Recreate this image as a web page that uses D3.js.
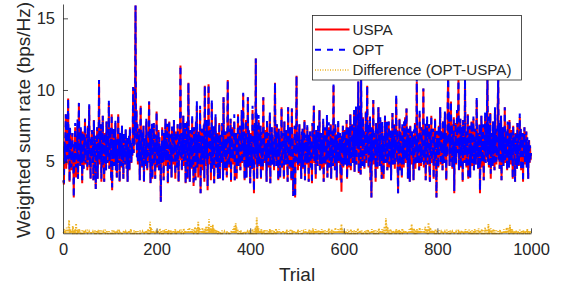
<!DOCTYPE html>
<html>
<head>
<meta charset="utf-8">
<script src="https://cdn.jsdelivr.net/npm/d3@7"></script>
<style>
  html, body { margin: 0; padding: 0; background: #fff; }
  svg { display: block; font-family: "Liberation Sans", Arial, Helvetica, sans-serif; }
</style>
</head>
<body>
<svg id="chart" width="561" height="288"></svg>
<script>
// ---- Data ----
const xTicks = [0, 200, 400, 600, 800, 1000];
const yTicks = [0, 5, 10, 15];
const seriesNames = ["USPA", "OPT", "Difference (OPT-USPA)"];

// USPA weighted sum rate, trials 1..1000 (50 per row)
const uspa = [
3.7,3.4,6.1,5.0,6.6,8.3,4.5,7.8,5.2,6.9,9.4,4.8,6.3,3.6,7.2,5.5,6.0,4.4,5.8,7.0,4.6,5.3,2.5,6.2,4.9,7.4,5.1,3.9,6.5,5.6,7.7,3.8,6.0,9.1,5.0,6.8,4.7,7.3,5.4,6.2,3.5,7.1,5.7,4.5,6.7,5.2,8.0,4.8,6.4,5.5,
6.9,4.4,7.5,5.1,6.0,8.9,4.6,5.8,3.8,6.6,5.3,7.2,4.9,6.1,3.7,7.9,5.6,6.4,4.7,3.1,6.8,5.0,7.4,3.8,6.2,5.4,10.7,4.8,6.7,5.2,7.6,3.6,6.0,5.5,8.2,4.6,6.3,3.6,7.0,5.1,6.5,4.4,7.8,5.7,4.9,6.9,5.3,9.1,4.5,6.1,
5.0,7.3,3.7,8.3,3.0,6.4,5.6,7.1,4.7,6.0,5.2,7.7,4.4,6.6,3.9,5.8,4.9,8.3,5.4,6.2,3.6,7.0,5.5,6.4,4.6,7.5,5.1,6.1,3.8,6.8,5.3,6.0,4.8,7.2,5.6,4.5,6.5,3.6,5.9,5.0,6.7,4.4,7.4,5.2,6.0,4.9,6.3,5.4,7.0,10.2,
5.6,8.1,6.2,9.8,15.9,6.8,8.6,5.3,7.6,4.8,6.9,5.5,7.3,3.7,6.4,8.9,5.0,7.1,4.6,6.0,5.4,7.5,3.6,6.6,5.2,6.1,4.7,7.8,5.8,4.4,6.3,5.1,7.0,9.2,4.9,6.5,3.5,6.8,5.6,7.4,3.8,6.0,5.3,7.7,4.8,6.2,3.8,6.9,5.5,8.5,
4.6,6.4,5.2,7.2,4.4,6.7,5.0,5.8,2.2,6.1,4.9,7.4,5.5,6.3,3.7,7.0,5.3,6.0,8.0,4.7,6.6,5.1,7.5,3.5,6.2,5.7,7.8,4.5,6.9,5.4,6.1,3.9,7.3,5.0,6.5,4.8,7.9,5.6,6.3,3.8,7.1,5.2,6.0,4.6,7.6,5.9,3.6,6.8,5.3,7.2,
11.7,5.1,7.0,4.4,6.6,5.8,8.2,4.7,6.3,5.2,7.5,3.5,6.9,5.5,7.8,3.8,6.1,10.5,4.9,6.4,3.6,7.2,5.3,6.7,4.5,8.0,5.0,6.2,3.3,7.4,5.6,6.0,3.7,7.7,5.4,8.9,4.6,6.5,3.9,7.1,5.2,6.3,8.6,2.8,6.8,5.0,7.3,4.4,6.1,5.7,
7.6,3.6,10.3,5.3,6.6,4.7,7.9,5.5,3.0,6.2,10.4,4.8,6.9,5.1,7.4,3.7,6.0,9.1,4.5,6.7,5.4,7.2,3.5,6.3,5.8,8.1,4.6,6.5,5.0,7.0,3.8,6.1,5.6,7.7,3.8,6.8,5.2,6.0,4.9,7.5,5.5,3.7,9.5,5.7,6.4,4.4,7.1,5.1,6.6,3.9,
6.2,10.7,5.0,7.3,4.6,6.5,5.3,8.0,3.6,6.9,5.6,7.4,4.8,6.1,5.2,7.8,3.7,6.6,5.5,7.0,3.8,6.3,5.9,8.3,4.7,6.8,5.1,7.5,4.4,6.0,5.7,8.6,4.9,6.4,9.7,5.3,7.1,3.7,6.7,5.6,7.9,3.9,6.2,5.0,9.5,4.6,7.2,5.4,6.5,3.5,
7.0,5.2,6.3,4.5,8.6,5.8,6.9,2.8,6.1,7.7,4.8,12.2,5.5,7.3,3.8,6.6,5.0,7.9,4.7,6.2,5.4,7.5,3.8,6.8,5.1,6.0,4.4,9.5,5.7,6.4,4.9,7.2,5.3,6.1,3.6,7.8,5.6,6.5,4.6,7.0,5.2,8.2,3.5,6.3,5.5,7.4,4.8,6.7,5.0,6.0,
4.4,7.1,10.5,5.3,6.6,4.7,7.6,5.8,6.2,3.7,7.3,5.1,6.8,3.9,6.4,5.6,8.8,4.6,7.0,5.4,6.1,3.8,7.8,5.0,6.5,4.8,7.2,5.7,6.0,3.6,8.8,5.2,6.9,4.5,7.4,5.5,6.3,3.7,8.7,5.0,6.7,2.6,6.2,5.3,7.5,2.5,6.6,4.9,11.0,5.6,
7.0,4.4,6.1,5.2,7.6,4.7,6.4,5.5,3.8,6.9,5.0,7.3,4.5,6.2,5.7,7.9,3.7,6.6,5.3,6.0,4.8,7.4,5.1,6.5,3.6,6.8,5.4,7.1,4.6,6.3,5.8,3.5,7.7,5.2,6.1,8.9,4.9,6.7,5.5,3.8,7.2,5.0,6.4,4.7,7.5,5.6,6.0,8.6,4.4,6.6,
5.1,7.0,4.5,6.3,5.4,7.8,3.6,6.5,5.7,7.2,4.8,6.1,5.2,8.1,3.9,6.7,5.5,7.4,4.6,6.0,5.3,7.6,3.8,6.4,5.0,7.1,4.7,10.3,5.6,6.2,4.4,7.3,5.1,6.6,3.7,6.9,5.4,7.7,4.9,6.0,5.2,7.0,3.7,6.3,2.9,6.8,5.5,7.5,4.6,6.1,
5.3,7.2,4.8,6.5,5.0,7.9,3.8,6.2,5.6,7.4,4.6,6.7,5.2,8.3,4.4,6.0,5.8,7.6,4.9,6.9,5.7,8.4,4.3,7.0,6.2,8.7,4.8,7.3,5.9,6.6,10.6,4.2,7.8,6.0,8.9,4.1,10.7,6.3,7.5,4.7,8.1,5.8,7.1,4.5,6.8,5.5,8.5,4.9,7.2,10.3,
5.6,7.4,4.6,6.9,5.3,8.0,3.7,6.5,2.5,7.1,5.0,6.4,9.3,4.8,7.0,5.7,6.2,3.6,7.7,5.4,6.6,4.5,7.2,8.8,5.1,6.3,4.7,7.9,5.5,6.0,3.8,7.5,5.2,6.8,3.8,6.1,5.6,8.2,4.9,6.7,5.3,7.3,4.4,6.4,5.0,7.8,4.6,6.2,5.7,7.0,
3.7,6.6,5.4,8.4,4.8,6.9,5.1,7.6,4.5,6.3,5.8,9.4,5.0,7.2,4.7,2.8,6.5,5.3,8.0,4.4,7.0,5.6,6.2,3.9,7.4,5.2,6.7,4.6,7.8,5.5,8.1,4.9,6.4,8.7,5.1,6.8,3.8,7.3,5.7,6.0,3.6,7.5,5.4,6.6,4.8,7.1,5.0,6.3,3.7,6.9,
5.3,7.7,4.5,6.4,5.9,10.6,4.9,7.0,5.2,6.6,4.4,8.3,5.6,6.1,4.7,7.4,5.0,6.8,5.5,10.1,4.6,6.5,5.3,7.2,3.7,6.9,5.7,7.9,4.8,6.3,5.1,7.6,4.4,3.6,6.7,5.4,8.2,4.9,6.0,5.6,7.3,3.8,6.6,5.0,8.0,4.7,6.2,2.5,7.0,5.5,
6.4,4.6,7.5,5.3,6.8,8.8,4.8,7.1,5.6,6.2,4.4,7.8,5.1,6.5,4.9,8.4,5.7,7.0,3.7,6.6,5.4,9.0,11.2,6.1,8.5,4.7,7.3,5.8,9.2,5.0,7.6,4.5,6.9,5.5,8.1,2.8,6.4,5.2,7.7,4.8,6.3,8.6,5.6,7.2,10.8,4.4,6.7,5.1,8.0,4.6,
7.4,5.3,6.8,3.6,7.9,5.7,6.2,4.9,10.8,5.4,7.1,4.6,6.5,5.0,8.3,3.8,6.9,5.6,7.5,3.9,6.4,5.2,7.8,4.7,6.1,5.5,8.0,4.4,6.7,5.1,7.3,4.8,6.3,9.3,5.3,7.0,4.5,6.6,5.8,7.6,2.8,6.2,5.0,8.2,4.6,6.9,5.4,7.4,3.7,6.5,
5.7,8.1,4.9,7.2,5.3,8.8,10.8,5.0,7.5,4.6,6.8,5.5,8.4,3.8,7.0,5.9,6.4,4.7,7.8,5.2,6.6,4.4,8.6,5.6,7.3,4.8,6.1,5.4,9.0,10.8,5.1,7.7,4.5,6.9,5.8,8.2,3.7,6.5,5.0,7.4,4.7,6.3,5.5,8.8,4.9,7.1,5.3,6.7,4.4,7.6,
5.2,6.4,4.6,7.9,5.6,6.8,4.8,7.2,5.1,6.2,3.8,7.5,5.7,6.6,4.9,3.6,7.0,5.4,6.3,4.5,7.7,5.0,6.9,4.7,6.1,8.1,5.3,7.3,4.4,6.5,5.8,7.0,3.6,6.7,5.5,7.4,4.8,6.0,5.2,7.1,4.6,6.4,5.6,3.8,6.2,6.5,4.9,6.0,5.1,5.6
];

// Nonzero OPT-USPA gaps as [trial, gap]; every other trial has gap 0
const diffPoints = [
[2,0.1],[3,0.3],[5,0.15],[7,0.25],[8,0.4],[10,0.2],[12,0.35],[13,0.93],[15,0.3],[17,0.15],[18,0.2],[21,0.5],[24,0.15],[26,0.3],[28,0.7],[31,0.25],[33,0.15],[35,0.3],[38,0.1],[41,0.2],[45,0.2],[48,0.1],[52,0.25],[56,0.1],[60,0.15],[64,0.1],[68,0.2],[72,0.15],[75,0.1],[78,0.2],[82,0.2],[86,0.1],[90,0.25],[94,0.15],[98,0.15],
[102,0.1],[105,0.2],[108,0.25],[112,0.15],[116,0.1],[120,0.25],[125,0.1],[130,0.2],[134,0.1],[137,0.15],[141,0.2],[145,0.3],[149,0.1],[152,0.2],[156,0.15],[160,0.15],[165,0.2],[170,0.1],[174,0.15],[178,0.2],[182,0.3],[186,0.8],[188,0.4],[190,0.3],[193,0.2],[196,0.15],[199,0.1],
[203,0.2],[207,0.35],[210,0.15],[214,0.2],[217,0.1],[220,0.3],[223,0.15],[226,0.25],[230,0.2],[233,0.15],[236,0.2],[240,0.3],[243,0.15],[246,0.2],[249,0.1],[252,0.25],[255,0.15],[258,0.35],[261,0.2],[264,0.2],[267,0.3],[270,0.4],[273,0.2],[276,0.3],[279,0.25],[282,0.45],[284,0.2],[286,0.35],[289,0.8],[291,0.4],[293,0.3],[296,0.2],[298,0.4],[300,0.2],
[302,0.25],[304,0.35],[306,0.5],[308,0.2],[309,0.3],[310,0.45],[312,1.0],[314,0.3],[316,0.5],[318,0.25],[320,0.6],[322,0.35],[324,0.3],[326,0.2],[328,0.2],[332,0.15],[336,0.1],[340,0.2],[345,0.1],[350,0.15],[355,0.1],[360,0.2],[363,0.3],[366,0.5],[369,0.7],[371,0.4],[373,0.3],[377,0.15],[380,0.2],[385,0.1],[390,0.15],[394,0.1],[398,0.2],
[402,0.1],[405,0.3],[408,0.15],[411,0.4],[414,1.1],[416,0.5],[418,0.35],[421,0.2],[424,0.3],[427,0.15],[430,0.25],[433,0.2],[436,0.2],[439,0.15],[442,0.3],[445,0.2],[448,0.2],[451,0.15],[455,0.35],[458,0.2],[462,0.3],[466,0.15],[470,0.2],[474,0.15],[478,0.25],[482,0.15],[486,0.3],[490,0.2],[494,0.2],[498,0.15],
[502,0.25],[506,0.15],[510,0.2],[514,0.1],[518,0.3],[522,0.15],[526,0.25],[530,0.2],[534,0.35],[537,0.15],[540,0.3],[543,0.2],[546,0.2],[550,0.15],[553,0.3],[556,0.2],[560,0.2],[564,0.15],[568,0.35],[571,0.2],[574,0.25],[578,0.2],[582,0.4],[585,0.2],[588,0.3],[591,0.2],[593,0.4],[595,0.65],[597,0.3],[600,0.2],
[604,0.15],[608,0.25],[611,0.15],[615,0.3],[618,0.15],[622,0.2],[626,0.15],[630,0.35],[634,0.2],[638,0.2],[642,0.1],[645,0.15],[648,0.2],[652,0.25],[656,0.15],[660,0.3],[664,0.2],[668,0.2],[672,0.15],[675,0.35],[678,0.2],[682,0.3],[685,0.25],[687,0.5],[690,1.05],[692,0.6],[694,0.4],[697,0.2],[700,0.3],
[703,0.15],[706,0.2],[709,0.15],[712,0.3],[715,0.2],[718,0.25],[721,0.15],[725,0.35],[728,0.2],[732,0.2],[736,0.15],[740,0.3],[743,0.4],[745,0.65],[747,0.3],[750,0.35],[753,0.2],[756,0.3],[759,0.2],[762,0.4],[765,0.2],[768,0.3],[771,0.2],[774,0.45],[776,0.3],[778,0.3],[781,0.75],[783,0.35],[785,0.4],[788,0.2],[790,0.2],[793,0.15],[796,0.3],[799,0.15],
[804,0.2],[808,0.1],[812,0.15],[816,0.1],[820,0.25],[824,0.15],[828,0.2],[832,0.1],[836,0.15],[840,0.1],[845,0.25],[848,0.15],[852,0.2],[856,0.15],[860,0.3],[864,0.2],[868,0.25],[871,0.15],[874,0.2],[877,0.15],[880,0.3],[884,0.2],[888,0.35],[891,0.2],[895,0.3],[898,0.2],
[902,0.4],[904,0.2],[906,0.3],[909,0.65],[911,0.3],[914,0.35],[917,0.2],[920,0.3],[923,0.2],[926,0.2],[930,0.15],[934,0.25],[938,0.15],[942,0.3],[945,0.2],[948,0.4],[950,0.2],[952,0.35],[955,0.6],[957,0.3],[960,0.3],[964,0.15],[968,0.2],[972,0.15],[976,0.25],[980,0.15],[984,0.2],[988,0.15],[992,0.3],[995,0.15],[998,0.15]
];

// ---- Build series ----
const gapByTrial = new Map(diffPoints);
const rows = uspa.map((u, i) => {
  const trial = i + 1;
  const d = gapByTrial.get(trial) || 0;
  return { trial, uspa: u, opt: u + d, diff: d };
});

// ---- Layout ----
const svg = d3.select("#chart");
const m = { left: 63, right: 531, top: 4, bottom: 233.3 };
const x = d3.scaleLinear().domain([0, 1000]).range([m.left, m.right]);
const y = d3.scaleLinear().domain([0, 16]).range([m.bottom, m.top]);
const axisColor = "#262626";
const tickFont = "16.5px";
const labelFont = "19px";

const lineGen = key => d3.line().x(d => x(d.trial)).y(d => y(d[key]));

const plot = svg.append("g");
plot.append("path").datum(rows)
  .attr("d", lineGen("uspa"))
  .attr("fill", "none").attr("stroke", "#FF0000").attr("stroke-width", 2);
plot.append("path").datum(rows)
  .attr("d", lineGen("opt"))
  .attr("fill", "none").attr("stroke", "#0000FF").attr("stroke-width", 2)
  .attr("stroke-dasharray", "6,5");
plot.append("path").datum(rows)
  .attr("d", lineGen("diff"))
  .attr("fill", "none").attr("stroke", "#EDB120").attr("stroke-width", 1.8)
  .attr("stroke-dasharray", "1.5,1.5");

// ---- Axes ----
const xAxis = d3.axisBottom(x).tickValues(xTicks).tickFormat(d3.format("d"))
  .tickSizeInner(-5).tickSizeOuter(0).tickPadding(10);
const gx = svg.append("g").attr("transform", `translate(0,${m.bottom})`).call(xAxis);
gx.select(".domain").attr("stroke", axisColor).attr("stroke-width", 0.8);
gx.selectAll(".tick line").attr("stroke", axisColor).attr("stroke-width", 0.8)
  .filter(d => d === 0).remove();
gx.selectAll(".tick text").attr("fill", axisColor).style("font-size", tickFont)
  .style("font-family", "'Liberation Sans', Arial, sans-serif");

const yAxis = d3.axisLeft(y).tickValues(yTicks).tickFormat(d3.format("d"))
  .tickSizeInner(-5).tickSizeOuter(0).tickPadding(8);
const gy = svg.append("g").attr("transform", `translate(${m.left},0)`).call(yAxis);
gy.select(".domain").attr("stroke", axisColor).attr("stroke-width", 0.8);
gy.selectAll(".tick line").attr("stroke", axisColor).attr("stroke-width", 0.8)
  .filter(d => d === 0).remove();
gy.selectAll(".tick text").attr("fill", axisColor).style("font-size", tickFont)
  .style("font-family", "'Liberation Sans', Arial, sans-serif");

svg.append("text")
  .attr("x", (m.left + m.right) / 2).attr("y", 281)
  .attr("text-anchor", "middle").attr("fill", axisColor)
  .style("font-size", labelFont).text("Trial");

svg.append("text")
  .attr("transform", `translate(30,${120}) rotate(-90)`)
  .attr("text-anchor", "middle").attr("fill", axisColor)
  .style("font-size", labelFont).text("Weighted sum rate (bps/Hz)");

// ---- Legend ----
const lg = svg.append("g");
lg.append("rect").attr("x", 312.5).attr("y", 15.5).attr("width", 209).attr("height", 64.5)
  .attr("fill", "#fff").attr("stroke", axisColor).attr("stroke-width", 0.8);
const legendStyles = [
  { color: "#FF0000", dash: null, w: 2 },
  { color: "#0000FF", dash: "6,6", w: 2 },
  { color: "#EDB120", dash: "1,1.5", w: 1.5 }
];
seriesNames.forEach((name, i) => {
  const cy = 29.5 + i * 20.3;
  const s = legendStyles[i];
  const ln = lg.append("line").attr("x1", 315).attr("x2", 349.5).attr("y1", cy).attr("y2", cy)
    .attr("stroke", s.color).attr("stroke-width", s.w);
  if (s.dash) ln.attr("stroke-dasharray", s.dash);
  lg.append("text").attr("x", 352.5).attr("y", cy).attr("dy", "0.35em")
    .attr("fill", axisColor).style("font-size", "15.2px").text(name);
});
</script>
</body>
</html>
